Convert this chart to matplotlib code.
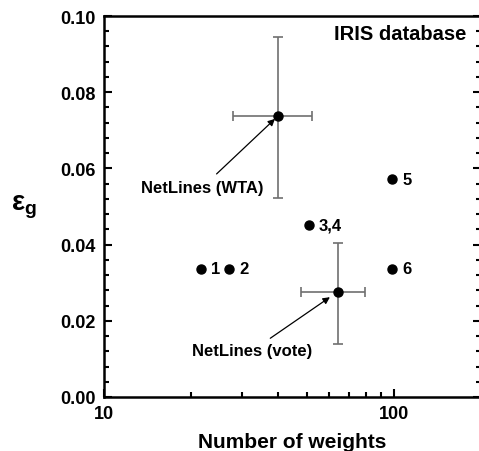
import matplotlib.pyplot as plt
from matplotlib.ticker import MultipleLocator, FixedLocator, NullFormatter

plt.rcParams['font.family'] = ['Liberation Sans', 'DejaVu Sans']
plt.rcParams['font.weight'] = 'bold'
plt.rcParams['mathtext.fontset'] = 'custom'
plt.rcParams['mathtext.rm'] = 'Liberation Sans'
plt.rcParams['mathtext.it'] = 'Liberation Sans'

# simple methods
weights = [21.6, 27, 50.8, 98.7, 98.7]
errors = [0.0336, 0.0336, 0.0451, 0.0572, 0.0336]
labels = ['1', '2', '3,4', '5', '6']

# NetLines results with spread
nl_weights = [40, 64]
nl_errors = [0.0737, 0.0275]
nl_xlo = [27.9, 47.7]
nl_xhi = [52.3, 79.8]
nl_ylo = [0.0522, 0.0138]
nl_yhi = [0.0946, 0.0403]

fig = plt.figure(figsize=(4.79, 4.52), dpi=100)
ax = fig.add_axes([104 / 479, 1 - 398 / 452, 377 / 479, 381 / 452])

xerr = [[w - lo for w, lo in zip(nl_weights, nl_xlo)], [hi - w for w, hi in zip(nl_weights, nl_xhi)]]
yerr = [[e - lo for e, lo in zip(nl_errors, nl_ylo)], [hi - e for e, hi in zip(nl_errors, nl_yhi)]]
ax.errorbar(nl_weights, nl_errors, xerr=xerr, yerr=yerr, fmt='none', ecolor='#707070',
            elinewidth=1.2, capsize=3.5, capthick=1.2, zorder=2)
ax.plot(nl_weights, nl_errors, 'o', color='black', markersize=6.5, zorder=3)
ax.plot(weights, errors, 'o', color='black', markersize=6.5, zorder=3)

for w, e, lab in zip(weights, errors, labels):
    ax.annotate(lab, (w, e), xytext=(7.5, 0), textcoords='offset points',
                va='center', ha='left', fontsize=12, fontweight='bold')

ax.annotate('NetLines (WTA)', xy=(38.9, 0.073), xytext=(21.9, 0.0551),
            ha='center', va='center', fontsize=12, fontweight='bold',
            arrowprops=dict(arrowstyle='-|>', color='black', lw=0.9, shrinkA=3, shrinkB=0,
                            mutation_scale=10))
ax.annotate('NetLines (vote)', xy=(60.2, 0.0262), xytext=(32.4, 0.0121),
            ha='center', va='center', fontsize=12, fontweight='bold',
            arrowprops=dict(arrowstyle='-|>', color='black', lw=0.9, shrinkA=3, shrinkB=0,
                            mutation_scale=10))

ax.text(0.96, 0.955, 'IRIS database', transform=ax.transAxes, ha='right', va='center',
        fontsize=14.5, fontweight='bold')

ax.set_xscale('log')
ax.set_xlim(10, 200)
ax.set_ylim(0, 0.10)
ax.xaxis.set_major_locator(FixedLocator([10, 100]))
ax.xaxis.set_minor_locator(FixedLocator([20, 30, 40, 50, 60, 70, 80, 90]))
ax.xaxis.set_major_formatter(plt.FuncFormatter(lambda v, p: '%d' % v))
ax.xaxis.set_minor_formatter(NullFormatter())
ax.yaxis.set_major_locator(MultipleLocator(0.02))
ax.yaxis.set_minor_locator(MultipleLocator(0.004))
ax.yaxis.set_major_formatter(plt.FuncFormatter(lambda v, p: '%.2f' % v))

ax.tick_params(which='both', direction='in', right=True, top=False, width=1.5,
               labelsize=13, pad=6)
ax.tick_params(which='major', length=6)
ax.tick_params(which='minor', length=3.5)
for s in ax.spines.values():
    s.set_linewidth(1.8)

ax.set_xlabel('Number of weights', fontsize=15, fontweight='bold', labelpad=7)
ax.set_ylabel(r'$\epsilon_{\rm g}$', fontsize=20, rotation=0, labelpad=26, va='center')

fig.savefig('out.png', dpi=100)
